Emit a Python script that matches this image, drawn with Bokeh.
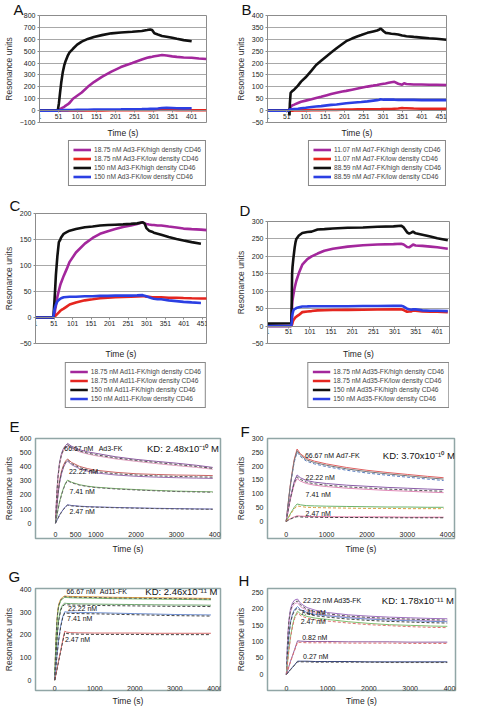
import math
from bokeh.plotting import figure
from bokeh.layouts import column, row
from bokeh.models import Range1d, FixedTicker, LinearAxis, Legend, LegendItem
from bokeh.core.properties import value
from bokeh.embed import file_html
from bokeh.resources import INLINE

NAN = float("nan")
FONT = "Liberation Sans"

# ---------------- Panel A (Ad3-FK) ----------------
A_t = [1, 49, 52, 55, 58, 62, 66, 70, 75, 80, 89, 100, 112, 128, 144, 165, 190, 215, 245, 270, 284, 292, 297, 303, 312, 323, 335, 350, 362, 380, 401, 420, 440]
A_mag = [0, 0, 5, 10, 18, 25, 32, 42, 52, 65, 100, 125, 152, 200, 240, 283, 328, 366, 400, 430, 444, 450, 453, 457, 462, 468, 463, 456, 452, 447, 444, 438, 434]
A_red = [0, 0, 0, 0, 1, 1, 1, 1, 1, 1, 1, 2, 2, 2, 2, 2, 3, 3, 3, 3, 4, 4, 4, 4, 5, 6, 6, 5, 4, 4, 3, 3, 3]
A_blk = [0, 0, 60, 150, 232, 320, 380, 420, 460, 490, 520, 555, 580, 603, 620, 635, 650, 657, 663, 670, 678, 683, 678, 650, 640, 628, 622, 612, 604, 593, 583, NAN, NAN]
A_blu = [0, 0, 1, 2, 3, 3, 4, 4, 4, 5, 5, 6, 6, 7, 8, 8, 9, 10, 12, 13, 14, 15, 15, 16, 18, 22, 24, 22, 20, 19, 20, NAN, NAN]
A_labels = ["18.75 nM Ad3-FK/high density CD46", "18.75 nM Ad3-FK/low density CD46",
            "150 nM Ad3-FK/high density CD46", "150 nM Ad3-FK/low density CD46"]
A_yticks = [-100, 0, 100, 200, 300, 400, 500, 600, 700, 800]

# ---------------- Panel B (Ad7-FK) ----------------
B_t = [1, 55, 57, 58, 59, 61, 65, 70, 80, 88, 100, 115, 127, 140, 155, 166, 180, 195, 205, 220, 235, 244, 260, 275, 285, 291, 294, 298, 302, 307, 315, 322, 330, 340, 350, 355, 361, 380, 400, 420, 439, 465]
B_mag = [0, 0, 2, 5, 10, 15, 22, 25, 32, 37, 42, 48, 53, 58, 65, 70, 75, 80, 83, 88, 93, 96, 101, 105, 108, 110, 111, 112, 113, 114, 117, 119, 121, 113, 109, 115, 112, 110, 110, 109, 109, 108]
B_red = [0, 0, 0, 0, 0, 0, 0, 1, 1, 1, 1, 2, 2, 2, 3, 3, 3, 4, 4, 4, 5, 5, 5, 6, 6, 6, 6, 7, 7, 7, 7, 7, 8, 9, 11, 10, 10, 9, 8, 8, 8, 8]
B_blk = [0, 0, -5, -20, 30, 75, 82, 88, 105, 122, 140, 168, 192, 210, 230, 244, 262, 280, 292, 303, 313, 318, 327, 333, 337, 341, 345, 340, 334, 327, 325, 323, 322, 320, 316, 315, 313, 310, 307, 304, 302, 298]
B_blu = [0, 0, 1, 3, 5, 5, 6, 7, 8, 10, 12, 15, 17, 19, 22, 24, 26, 29, 31, 33, 35, 36, 39, 42, 44, 46, 48, 47, 46, 46, 46, 46, 46, 45, 45, 45, 45, 45, 44, 44, 44, 44]
B_labels = ["11.07 nM Ad7-FK/high density CD46", "11.07 nM Ad7-FK/low density CD46",
            "88.59 nM Ad7-FK/high density CD46", "88.59 nM Ad7-FK/low density CD46"]
B_yticks = [-50, 0, 50, 100, 150, 200, 250, 300, 350, 400]

# ---------------- Panel C (Ad11-FK) ----------------
C_t = [1, 49, 52, 54, 56, 60, 64, 68, 70, 77, 85, 93, 110, 134, 155, 175, 196, 216, 237, 258, 275, 290, 295, 300, 307, 315, 320, 330, 340, 360, 381, 400, 422, 447, 463]
C_mag = [0, 0, 5, 15, 22, 40, 52, 63, 67, 80, 93, 107, 125, 142, 153, 161, 166, 170, 174, 177, 180, 183, 181, 180, 179, 178, 178, 177, 177, 175, 173, 171, 170, 169, 168]
C_red = [0, 0, 1, 3, 4, 7, 10, 13, 14, 17, 21, 25, 29, 33, 35, 37, 38, 39, 39.5, 40, 40.5, 41, 41, 40, 40, 39, 39, 39, 39, 38, 38, 37.5, 37, 36.5, 36.5]
C_blk = [0, 0, 30, 55, 82, 118, 145, 150, 154, 161, 164, 167, 170, 173.5, 175, 177, 178, 178.5, 179, 180, 181, 183, 181, 172, 167, 165, 163, 161, 159, 155, 151, 148, 145, 142, NAN]
C_blu = [0, 0, 15, 20, 25, 31, 34, 36, 37, 39, 39.5, 40, 40, 41, 41, 41.5, 41.5, 42, 42, 42, 42.5, 43, 42, 41, 39, 37, 36, 35, 35, 33, 31.5, 30, 29, 28, NAN]
C_labels = ["18.75 nM Ad11-FK/high density CD46", "18.75 nM Ad11-FK/low density CD46",
            "150 nM Ad11-FK/high density CD46", "150 nM Ad11-FK/low density CD46"]
C_yticks = [-50, 0, 50, 100, 150, 200]

# ---------------- Panel D (Ad35-FK) ----------------
D_t = [1, 55, 57, 58, 59, 60, 62, 65, 67, 69, 75, 83, 95, 105, 119, 135, 155, 190, 226, 260, 298, 316, 322, 330, 335, 340, 344, 350, 366, 385, 401, 426]
D_mag = [0, 0, 0, 20, 60, 75, 90, 110, 120, 130, 152, 176, 192, 200, 208, 216, 222, 228, 232, 234, 235, 236, 234, 227, 226, 230, 234, 231, 230, 228, 226, 222]
D_red = [0, 0, 0, 2, 5, 10, 17, 22, 25, 27, 32, 40, 42, 43, 45, 45.5, 46, 46.5, 47, 47.5, 48, 48, 46, 41, 42, 42, 45, 44, 42, 41, 41, 40]
D_blk = [7, 8, 8, 60, 150, 170, 194, 225, 240, 250, 260, 267, 270, 271, 277, 278, 280, 282, 283, 285, 286, 288, 283, 269, 265, 268, 271, 266, 262, 257, 252, 246]
D_blu = [0, 0, 0, 10, 25, 35, 45, 49, 50, 52, 54, 56, 56.5, 57, 57, 57, 57, 57, 57.5, 57.5, 58, 58, 56, 50, 48, 47, 48, 48, 45, 44, 44, 43]
D_labels = ["18.75 nM Ad35-FK/high density CD46", "18.75 nM Ad35-FK/low density CD46",
            "150 nM Ad35-FK/high density CD46", "150 nM Ad35-FK/low density CD46"]
D_yticks = [-50, 0, 50, 100, 150, 200, 250, 300]

SERIES_COLORS = ["#a3279c", "#e5261f", "#111111", "#2b3fe3"]

# ---------------- Panel E (Ad3-FK kinetics) ----------------
E_t = [0, 30, 60, 100, 150, 200, 250, 300, 400, 600, 800, 1000, 1500, 2000, 2500, 3000, 3500, 3900]
E_66_a = [0, 200, 330, 430, 495, 530, 550, 565, 545, 520, 505, 495, 470, 452, 438, 425, 410, 395]
E_66_b = [0, 190, 315, 415, 480, 515, 535, 548, 530, 505, 490, 478, 455, 438, 422, 408, 395, 382]
E_66_f = [0, 195, 322, 422, 487, 522, 542, 556, 536, 511, 496, 485, 462, 445, 430, 416, 402, 388]
E_22_a = [0, 115, 210, 300, 370, 412, 440, 455, 430, 402, 386, 375, 360, 350, 345, 341, 339, 337]
E_22_b = [0, 105, 195, 282, 350, 395, 425, 440, 414, 385, 368, 356, 341, 332, 326, 322, 319, 317]
E_22_f = [0, 110, 202, 291, 360, 403, 432, 447, 422, 393, 377, 365, 350, 341, 335, 331, 328, 326]
E_7_a = [0, 50, 95, 150, 205, 250, 285, 305, 290, 272, 262, 255, 245, 238, 232, 227, 224, 222]
E_7_f = [0, 48, 92, 146, 200, 244, 279, 300, 286, 269, 259, 252, 242, 235, 229, 224, 221, 219]
E_2_a = [0, 18, 35, 58, 80, 100, 118, 130, 125, 120, 117, 115, 111, 108, 105, 103, 101, 100]
E_2_f = [0, 17, 33, 55, 77, 97, 115, 127, 122, 118, 115, 113, 109, 106, 103, 101, 99, 98]
E_lab_text = ["66.67 nM", "Ad3-FK", "22.22 nM", "7.41 nM", "2.47 nM"]
E_lab_x = [217, 1070, 333, 350, 350]
E_lab_y = [528, 528, 364, 225, 80]
E_kd = "KD: 2.48x10\u207b\u00b9\u2070 M"

# ---------------- Panel F (Ad7-FK kinetics) ----------------
F_t = [0, 30, 60, 100, 150, 200, 270, 350, 500, 700, 1000, 1500, 2000, 2500, 3000, 3500, 3900]
F_66_a = [0, 40, 80, 130, 180, 225, 262, 245, 228, 218, 208, 195, 185, 177, 170, 163, 158]
F_66_b = [0, 38, 76, 124, 172, 215, 250, 235, 218, 208, 198, 185, 175, 167, 160, 153, 148]
F_66_f = [0, 39, 78, 127, 176, 220, 256, 240, 223, 213, 203, 190, 180, 172, 165, 158, 153]
F_22_a = [0, 25, 50, 82, 115, 145, 168, 158, 148, 142, 137, 131, 127, 123, 120, 117, 115]
F_22_b = [0, 23, 46, 76, 106, 134, 155, 146, 137, 131, 126, 120, 116, 112, 109, 106, 104]
F_22_f = [0, 24, 48, 79, 110, 140, 161, 152, 142, 136, 131, 125, 121, 117, 114, 111, 109]
F_7_a = [0, 8, 16, 27, 39, 51, 63, 60, 57, 56, 55, 54, 53, 52, 52, 51, 51]
F_7_b = [0, 7, 14, 24, 35, 45, 56, 54, 51, 50, 49, 48, 47, 47, 46, 46, 46]
F_2_a = [0, 3, 6, 9, 13, 16, 20, 19, 18, 17, 17, 16, 16, 16, 15, 15, 15]
F_2_b = [0, 2, 5, 8, 11, 14, 17, 16, 15, 15, 14, 14, 14, 13, 13, 13, 13]
F_lab_text = ["66.67 nM", "Ad7-FK", "22.22 nM", "7.41 nM", "2.47 nM"]
F_lab_x = [463, 1235, 480, 480, 480]
F_lab_y = [238, 238, 160, 96, 28]
F_kd = "KD: 3.70x10\u207b\u00b9\u2070 M"

# ---------------- Panel G (Ad11-FK kinetics) ----------------
G_t = [0, 25, 50, 75, 100, 150, 200, 250, 300, 400, 600, 1000, 1500, 2000, 2500, 3000, 3500, 3900]
G_66_a = [0, 150, 250, 305, 335, 358, 367, 372, 371, 370, 369, 368, 366, 365, 364, 363, 362, 361]
G_66_b = [0, 140, 238, 293, 325, 350, 360, 366, 365, 364, 363, 362, 360, 359, 358, 357, 356, 355]
G_66_f = [0, 145, 244, 299, 330, 354, 363, 369, 368, 367, 366, 365, 363, 362, 361, 360, 359, 358]
G_22_a = [0, 90, 165, 225, 268, 315, 333, 340, 339, 338, 337, 336, 335, 334, 333, 332, 332, 331]
G_22_f = [0, 86, 160, 219, 262, 309, 327, 334, 333, 332, 331, 330, 329, 328, 327, 326, 326, 325]
G_7_a = [0, 50, 98, 140, 180, 240, 280, 302, 301, 300, 299, 298, 296, 294, 292, 290, 289, 288]
G_7_f = [0, 48, 95, 137, 176, 235, 275, 297, 296, 295, 294, 293, 291, 289, 287, 285, 284, 283]
G_2_a = [0, 20, 42, 65, 88, 130, 175, 216, 212, 210, 209, 208, 208, 208, 207, 207, 207, 207]
G_2_f = [0, 19, 40, 62, 84, 126, 170, 210, 206, 204, 203, 202, 202, 202, 201, 201, 201, 201]
G_lab_text = ["66.67 nM", "Ad11-FK", "22.22 nM", "7.41 nM", "2.47 nM"]
G_lab_x = [293, 1127, 332, 310, 255]
G_lab_y = [392, 392, 317, 272, 180]
G_kd = "KD: 2.46x10\u207b\u00b9\u00b9 M"

# ---------------- Panel H (Ad35-FK kinetics) ----------------
H_t = [0, 30, 60, 100, 150, 200, 270, 350, 500, 700, 1000, 1500, 2000, 2500, 3000, 3500, 3900]
H_22_a = [0, 110, 165, 200, 218, 226, 229, 215, 203, 195, 188, 181, 177, 174, 172, 170, 169]
H_22_b = [0, 100, 155, 190, 207, 215, 218, 205, 194, 186, 180, 174, 170, 167, 165, 163, 162]
H_22_f = [0, 105, 160, 195, 212, 220, 223, 210, 198, 190, 184, 177, 173, 170, 168, 166, 165]
H_7_a = [0, 70, 120, 160, 185, 198, 206, 196, 188, 182, 178, 172, 168, 165, 163, 161, 160]
H_7_f = [0, 68, 117, 157, 181, 194, 202, 192, 184, 178, 174, 168, 164, 161, 159, 157, 156]
H_2_a = [0, 40, 75, 115, 150, 175, 192, 183, 176, 171, 167, 160, 155, 151, 149, 147, 146]
H_2_f = [0, 38, 72, 111, 146, 170, 187, 178, 171, 166, 162, 156, 151, 148, 145, 143, 142]
H_08_a = [0, 12, 24, 40, 58, 76, 102, 101, 100, 100, 100, 99, 99, 99, 98, 98, 98]
H_08_f = [0, 11, 23, 38, 56, 73, 98, 97, 96, 96, 96, 95, 95, 95, 94, 94, 94]
H_03_a = [0, 4, 9, 15, 22, 29, 40, 40, 40, 39, 39, 39, 38, 38, 38, 38, 38]
H_03_f = [0, 4, 8, 14, 21, 28, 38, 38, 38, 37, 37, 37, 37, 36, 36, 36, 36]
H_lab_text = ["22.22 nM", "Ad35-FK", "7.41 nM", "2.47 nM", "0.82 nM", "0.27 nM"]
H_lab_x = [405, 1145, 345, 345, 382, 405]
H_lab_y = [226, 226, 187, 160, 112, 54]
H_kd = "KD: 1.78x10\u207b\u00b9\u00b9 M"


def base_fig(letter, w, h, bl, br, bt, bb, xr, yr, tstand, toff):
    p = figure(width=w, height=h, output_backend="svg", toolbar_location=None,
               x_range=Range1d(*xr), y_range=Range1d(*yr),
               min_border_left=bl, min_border_right=br, min_border_top=bt, min_border_bottom=bb)
    p.border_fill_color = "white"
    p.background_fill_color = "white"
    p.xgrid.visible = False
    p.title.text = letter
    p.title.text_font = FONT
    p.title.text_font_size = "15px"
    p.title.text_font_style = "normal"
    p.title.text_color = "#111111"
    p.title.align = "left"
    p.title.offset = toff
    p.title.standoff = tstand
    return p


def style_yaxis(p, ticks, color):
    ax = p.yaxis[0]
    ax.ticker = FixedTicker(ticks=ticks)
    ax.axis_label = "Resonance units"
    ax.axis_label_text_font = FONT
    ax.axis_label_text_font_size = "8.5px"
    ax.axis_label_text_font_style = "normal"
    ax.axis_label_text_color = "#333333"
    ax.axis_label_standoff = 3
    ax.major_label_text_font = FONT
    ax.major_label_text_font_size = "7px"
    ax.major_label_text_color = "#222222"
    ax.major_label_standoff = 2
    ax.major_tick_out = 2
    ax.major_tick_in = 0
    ax.minor_tick_line_color = None
    ax.axis_line_color = color
    ax.major_tick_line_color = color


def style_xaxis(p, ticks, fixed, line_color):
    ax = p.xaxis[0]
    ax.fixed_location = fixed
    ax.ticker = FixedTicker(ticks=ticks)
    ax.major_label_text_font = FONT
    ax.major_label_text_font_size = "7px"
    ax.major_label_text_color = "#222222"
    ax.major_label_standoff = 1
    ax.minor_tick_line_color = None
    ax.axis_line_color = line_color
    ax.major_tick_line_color = line_color
    ax.major_tick_out = 2
    ax.major_tick_in = 0


def add_time_axis(p, standoff):
    ax = LinearAxis(ticker=FixedTicker(ticks=[]), axis_label="Time (s)")
    ax.axis_line_color = None
    ax.major_tick_line_color = None
    ax.minor_tick_line_color = None
    ax.major_tick_out = 0
    ax.major_tick_in = 0
    ax.major_label_standoff = 0
    ax.axis_label_standoff = standoff
    ax.axis_label_text_font = FONT
    ax.axis_label_text_font_size = "8.5px"
    ax.axis_label_text_font_style = "normal"
    ax.axis_label_text_color = "#222222"
    p.add_layout(ax, "below")


def sensorgram(letter, t, series, xend, yticks, xticks, w, h, bl, br, bt, tstand):
    p = base_fig(letter, w, h, bl, br, bt, 0, (1, xend), (yticks[0], yticks[-1]), tstand, 2 - bl)
    p.outline_line_color = "#8c8c8c"
    p.ygrid.ticker = FixedTicker(ticks=yticks)
    p.ygrid.grid_line_color = "#a8a8a8"
    p.ygrid.grid_line_width = 1
    style_yaxis(p, yticks, "#8c8c8c")
    style_xaxis(p, xticks, 0, "#8c8c8c")
    p.xaxis[0].major_label_text_font_size = "6.8px"
    add_time_axis(p, 5)
    for ys, col in zip(series, SERIES_COLORS):
        p.line(t, ys, line_color=col, line_width=2.6)
    return p


def legend_fig(t, series, names, w, h, br, bt):
    # the legend's own copy of the series lies outside this figure's visible ranges
    q = figure(width=w, height=h, output_backend="svg", toolbar_location=None,
               x_range=Range1d(-5000, -4000), y_range=Range1d(-5000, -4000),
               min_border_left=0, min_border_right=br, min_border_top=bt, min_border_bottom=0,
               x_axis_type=None, y_axis_type=None)
    q.grid.visible = False
    q.outline_line_color = None
    q.border_fill_color = "white"
    q.background_fill_color = "white"
    items = []
    for ys, col, nm in zip(series, SERIES_COLORS, names):
        r = q.line(t, ys, line_color=col, line_width=2.6)
        items.append(LegendItem(label=nm, renderers=[r]))
    leg = Legend(items=items, location="top_right", orientation="vertical",
                 border_line_color="#111111", border_line_width=1,
                 padding=4, spacing=0, margin=0,
                 label_text_font=FONT, label_text_font_size="6.6px",
                 label_height=9, glyph_height=9, glyph_width=18, label_standoff=3,
                 background_fill_color="white", background_fill_alpha=1)
    q.add_layout(leg, "center")
    return q


def kinetic(letter, t, curves, lab_text, lab_x, lab_y, kd, kd_x, kd_y, xr, yr, yticks, xticks, xfix,
            w, h, bl, br, bt, tstand):
    p = base_fig(letter, w, h, bl, br, bt, 0, xr, yr, tstand, 2 - bl)
    p.ygrid.visible = False
    p.outline_line_color = "#91a6a6"
    p.outline_line_width = 1.5
    style_yaxis(p, yticks, None)
    style_xaxis(p, xticks, xfix, None)
    add_time_axis(p, 5)
    for ys, col, dash in curves:
        p.line(t, ys, line_color=col, line_width=1, line_dash=dash)
    p.text(x=lab_x, y=lab_y, text=lab_text, text_font=value(FONT), text_font_size="7px",
           text_baseline="middle", text_align="left", text_color="#111111")
    p.text(x=[kd_x], y=[kd_y], text=[kd], text_font=value(FONT), text_font_size="9.5px",
           text_baseline="middle", text_align="left", text_color="#111111")
    return p


W = 232
pA = sensorgram("A", A_t, [A_mag, A_red, A_blk, A_blu], 440, A_yticks,
                list(range(1, 402, 50)), W, 140, 28, 22, 10, -4)
pB = sensorgram("B", B_t, [B_mag, B_red, B_blk, B_blu], 465, B_yticks,
                list(range(1, 452, 50)), W, 140, 28, 12, 10, -4)
lA = legend_fig(A_t, [A_mag, A_red, A_blk, A_blu], A_labels, W, 46, 26, 0)
lB = legend_fig(B_t, [B_mag, B_red, B_blk, B_blu], B_labels, W, 46, 18, 0)
pC = sensorgram("C", C_t, [C_mag, C_red, C_blk, C_blu], 462, C_yticks,
                list(range(1, 452, 50)), W, 175, 28, 22, 27, 0)
pD = sensorgram("D", D_t, [D_mag, D_red, D_blk, D_blu], 430, D_yticks,
                list(range(1, 402, 50)), W, 175, 30, 12, 35, 5)
lC = legend_fig(C_t, [C_mag, C_red, C_blk, C_blu], C_labels, W, 48, 26, 1)
lD = legend_fig(D_t, [D_mag, D_red, D_blk, D_blu], D_labels, W, 48, 15, 1)

DASH = "3 2"
pE = kinetic("E", E_t,
             [(E_66_a, "#8d5ba0", "solid"), (E_66_b, "#dc9cbc", "solid"), (E_66_f, "#555555", DASH),
              (E_22_a, "#c86464", "solid"), (E_22_b, "#9b6fb0", "solid"), (E_22_f, "#555555", DASH),
              (E_7_a, "#7bb36b", "solid"), (E_7_f, "#666666", DASH),
              (E_2_a, "#6a6ab8", "solid"), (E_2_f, "#555555", DASH)],
             E_lab_text, E_lab_x, E_lab_y, E_kd, 2270, 528,
             (-496, 4093), (-109, 600), [0, 100, 200, 300, 400, 500, 600],
             [0, 500, 1000, 2000, 3000, 4000], -40, W, 147, 28, 12, 29, 8)
pF = kinetic("F", F_t,
             [(F_66_a, "#e06060", "solid"), (F_66_b, "#5c7fc0", DASH), (F_66_f, "#777777", "solid"),
              (F_22_a, "#8a5ca8", "solid"), (F_22_b, "#e08ab8", "solid"), (F_22_f, "#555555", DASH),
              (F_7_a, "#6bb36b", "solid"), (F_7_b, "#d9a040", DASH),
              (F_2_a, "#e070a0", "solid"), (F_2_b, "#444444", DASH)],
             F_lab_text, F_lab_x, F_lab_y, F_kd, 2394, 238,
             (-463, 4170), (-62, 300), [0, 50, 100, 150, 200, 250, 300],
             [0, 1000, 2000, 3000, 4000], -26, W, 147, 29, 10, 22, -2)
pG = kinetic("G", G_t,
             [(G_66_a, "#e0a040", "solid"), (G_66_b, "#7fbf6f", "solid"), (G_66_f, "#555555", DASH),
              (G_22_a, "#70a870", "solid"), (G_22_f, "#444444", DASH),
              (G_7_a, "#6f8fd0", "solid"), (G_7_f, "#444444", DASH),
              (G_2_a, "#d87070", "solid"), (G_2_f, "#444444", DASH)],
             G_lab_text, G_lab_x, G_lab_y, G_kd, 2262, 392,
             (-479, 4139), (-46, 405), [0, 100, 200, 300, 400],
             [0, 1000, 2000, 3000, 4000], -13, W, 152, 29, 12, 32, 7)
pH = kinetic("H", H_t,
             [(H_22_a, "#a070c0", "solid"), (H_22_b, "#e0a0d0", "solid"), (H_22_f, "#555555", DASH),
              (H_7_a, "#7090d0", "solid"), (H_7_f, "#444444", DASH),
              (H_2_a, "#80c070", "solid"), (H_2_f, "#e07070", DASH),
              (H_08_a, "#9060a0", "solid"), (H_08_f, "#e07070", DASH),
              (H_03_a, "#304080", "solid"), (H_03_f, "#555555", DASH)],
             H_lab_text, H_lab_x, H_lab_y, H_kd, 2313, 226,
             (-458, 4099), (-49, 261), [0, 50, 100, 150, 200, 250],
             [0, 1000, 2000, 3000, 4000], -27, W, 152, 31, 9, 24, 0)

layout = column(row(column(pA, lA), column(pB, lB)),
                row(column(pC, lC), column(pD, lD)),
                row(pE, pF), row(pG, pH))
open("out.html", "w").write(file_html(layout, INLINE))
